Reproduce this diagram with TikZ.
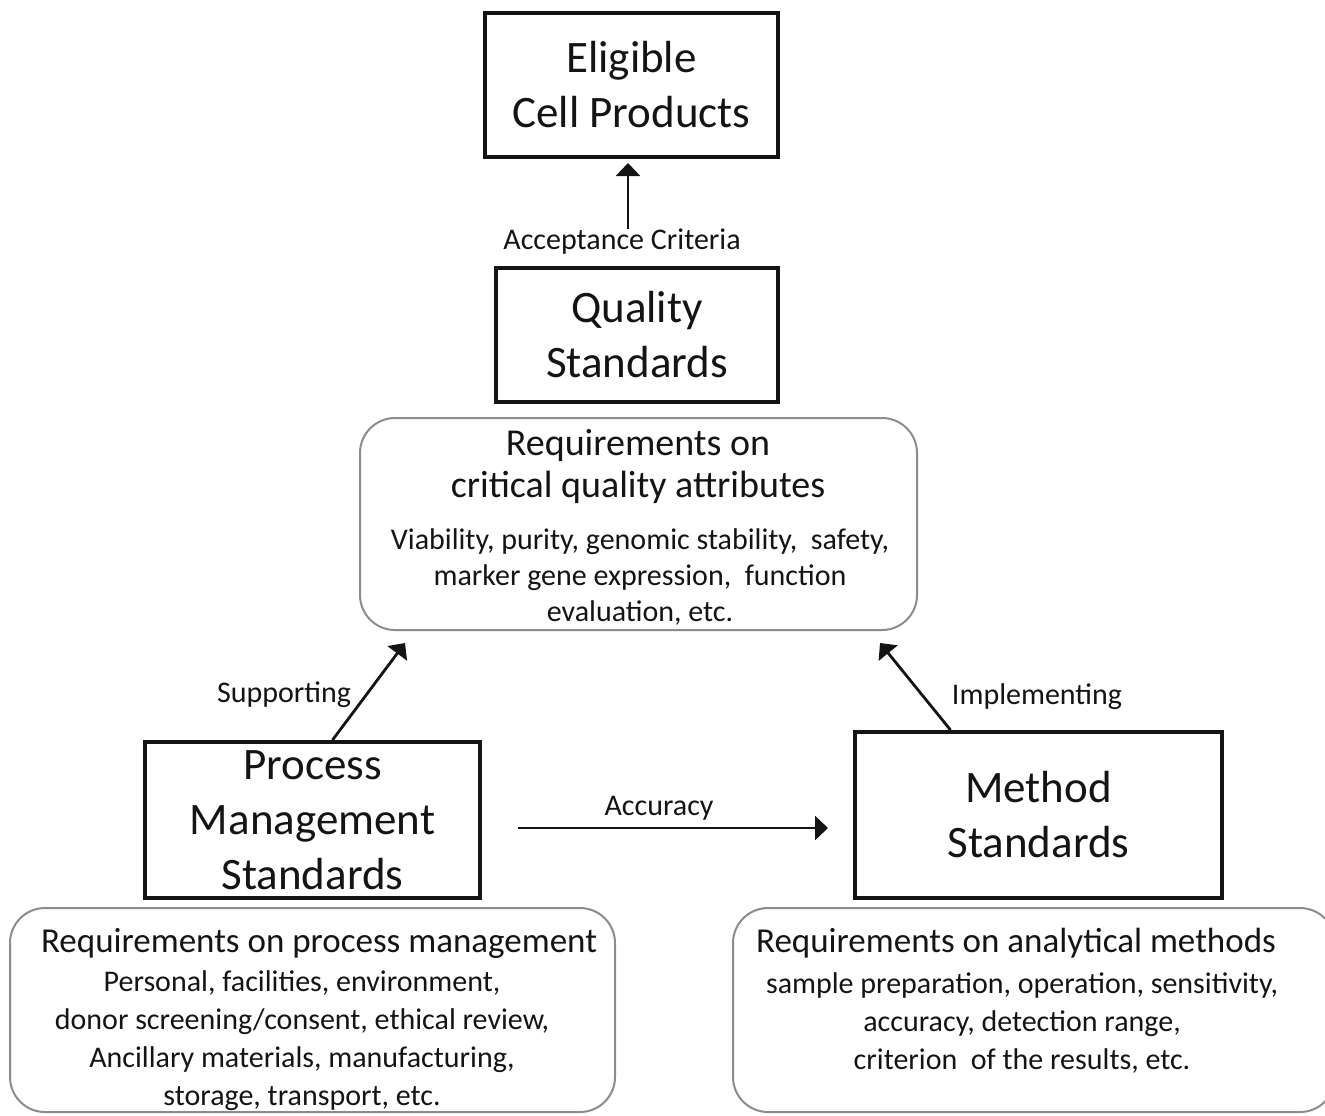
\documentclass[tikz,border=0pt]{standalone}
\usepackage{fontspec}
\setmainfont{Carlito}
\usetikzlibrary{arrows.meta,positioning}
\tikzset{
  stdbox/.style={draw, line width=2pt, inner sep=0pt, align=center, font=\fontsize{22.5}{27.5}\selectfont},
  reqbox/.style={draw=black!45, line width=1pt, rounded corners=17.5pt},
  reqhead/.style={align=center, inner sep=0pt, font=\fontsize{17.5}{21}\selectfont},
  reqtext/.style={align=center, inner sep=0pt, font=\fontsize{15}{19}\selectfont},
  lab/.style={inner sep=0pt, font=\fontsize{15}{18}\selectfont},
  arr/.style={line width=1.4pt, -{Triangle[length=6.5pt,width=12pt]}},
}
\begin{document}
\begin{tikzpicture}[x=0.5pt,y=-0.5pt,color=black!92]
\useasboundingbox (0,0) rectangle (1325,1115);
% standards
\node[stdbox, minimum width=146.5pt, minimum height=72pt] (elig) at (631.5,85) {Eligible\\Cell Products};
\node[stdbox, minimum width=141pt, minimum height=67pt] (qual) at (637,335) {Quality\\Standards};
\node[stdbox, minimum width=167.5pt, minimum height=78pt] (proc) at (312.5,820) {Process\\Management\\Standards};
\node[stdbox, minimum width=183.5pt, minimum height=83pt] (meth) at (1038.5,815) {Method\\Standards};
% requirements
\node[reqbox, minimum width=278.5pt, minimum height=106pt] (qreq) at (638.5,524) {};
\node[reqhead, font=\fontsize{19}{21}\selectfont] (qreqhead) at (638,466) {Requirements on\\critical quality attributes};
\node[reqtext, font=\fontsize{15}{18}\selectfont] (qreqtext) at (640,577) {Viability, purity, genomic stability,\ \ safety,\\marker gene expression,\ \ function\\evaluation, etc.};
\node[reqbox, minimum width=302.5pt, minimum height=102pt] (preq) at (312.5,1010) {};
\node[reqhead] (preqhead) at (319,943) {Requirements on process management};
\node[reqtext] (preqtext) at (302,1041) {Personal, facilities, environment,\\donor screening/consent, ethical review,\\Ancillary materials, manufacturing,\\storage, transport, etc.};
\node[reqbox, minimum width=301pt, minimum height=102pt] (mreq) at (1034,1010) {};
\node[reqhead] (mreqhead) at (1016,943) {Requirements on analytical methods};
\node[reqtext] (mreqtext) at (1022,1023) {sample preparation, operation, sensitivity,\\accuracy, detection range,\\criterion\ \ of the results, etc.};
% labels
\node[lab] (acclab) at (622,242) {Acceptance Criteria};
\node[lab] (suplab) at (284,695) {Supporting};
\node[lab] (implab) at (1037,697) {Implementing};
\node[lab] (acculab) at (659,808) {Accuracy};
% arrows
\coordinate (supend) at (405,643);
\coordinate (impend) at (880,643);
\coordinate (accs) at (518,828);
\coordinate (acce) at (828,828);
\draw[arr, shorten >=2pt] ([xshift=3pt]acclab.north) -- ([xshift=3pt]acclab.north |- elig.south);
\draw[arr] ([xshift=10pt]proc.north) -- (supend);
\draw[arr] ([xshift=-44pt]meth.north) -- (impend);
\draw[arr] (accs) -- (acce);
\end{tikzpicture}
\end{document}
